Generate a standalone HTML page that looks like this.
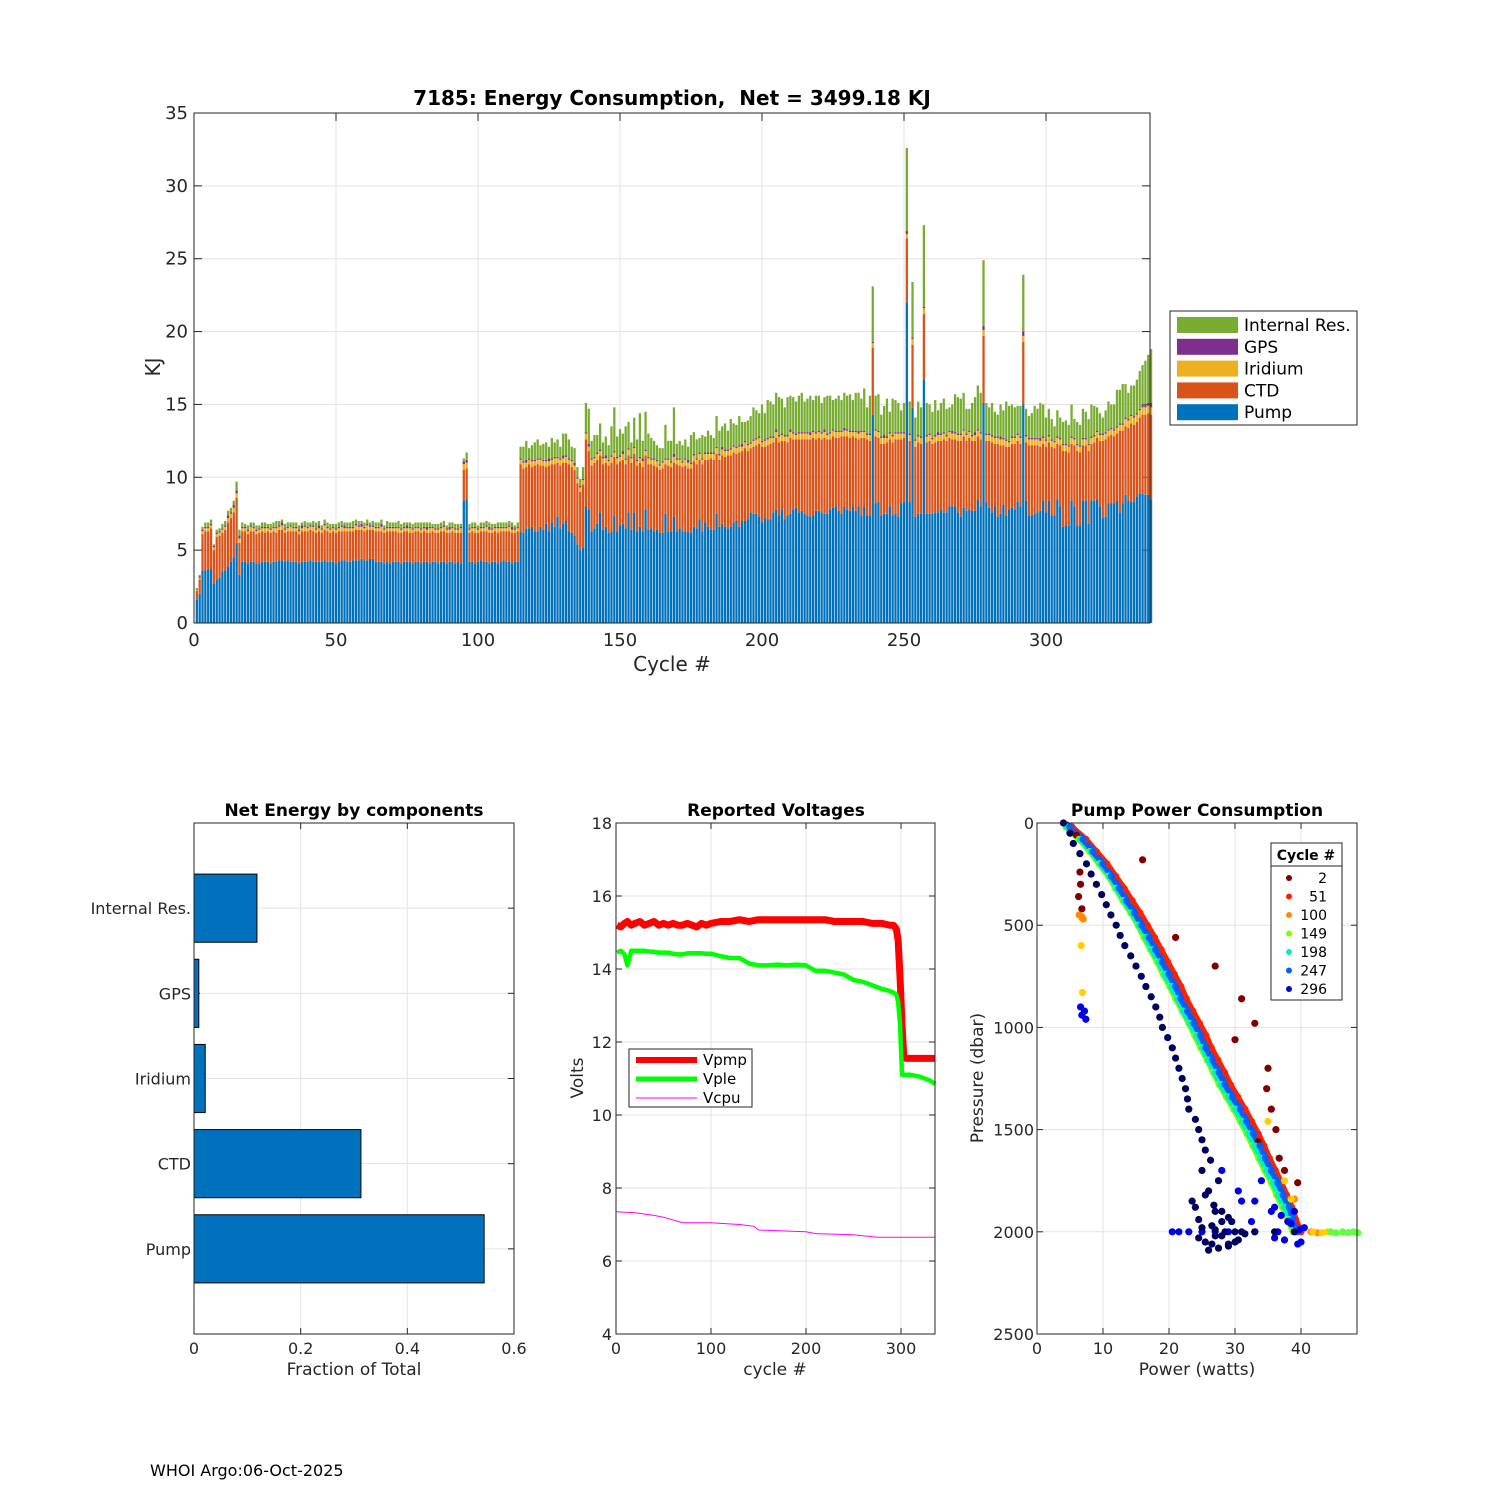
<!DOCTYPE html>
<html><head><meta charset="utf-8"><title>7185 Energy Consumption</title>
<style>
html,body{margin:0;padding:0;background:#fff;}
svg{display:block;font-family:"DejaVu Sans","Liberation Sans",sans-serif;}
</style></head>
<body>
<svg id="fig" xmlns="http://www.w3.org/2000/svg" width="1500" height="1500" viewBox="0 0 1500 1500">
<rect x="0" y="0" width="1500" height="1500" fill="#fff"/>
<g id="main"></g>
<g id="net"></g>
<g id="volt"></g>
<g id="pump"></g>
<text x="150" y="1476" font-size="16" fill="#000">WHOI Argo:06-Oct-2025</text>
</svg>
<script>
// ---------- main stacked bar data (cycles 1..337) ----------
const pumpKJ = [
1.6,2.0,3.6,3.6,3.7,3.7,2.7,3.0,3.1,3.5,
3.6,3.9,4.2,4.5,5.5,3.3,4.2,4.2,4.1,4.2,
4.2,4.1,4.1,4.2,4.2,4.2,4.1,4.2,4.2,4.3,
4.3,4.2,4.3,4.2,4.2,4.2,4.1,4.2,4.2,4.2,
4.3,4.2,4.2,4.2,4.2,4.3,4.2,4.2,4.2,4.1,
4.2,4.3,4.3,4.2,4.2,4.3,4.3,4.3,4.4,4.3,
4.3,4.4,4.4,4.2,4.2,4.2,4.1,4.2,4.1,4.2,
4.2,4.2,4.1,4.2,4.2,4.2,4.1,4.2,4.2,4.1,
4.2,4.2,4.1,4.2,4.2,4.1,4.2,4.2,4.1,4.2,
4.2,4.1,4.2,4.1,8.4,8.5,4.2,4.2,4.1,4.2,
4.3,4.2,4.2,4.1,4.2,4.2,4.1,4.2,4.3,4.2,
4.2,4.1,4.2,4.2,6.3,6.2,6.5,6.5,6.6,6.3,
6.3,6.6,6.4,6.8,6.3,6.9,6.6,7.3,6.5,6.8,
7.0,6.3,6.2,6.0,5.4,5.0,5.2,8.0,7.8,6.3,
6.5,6.8,7.6,6.4,6.6,6.2,6.3,7.4,6.3,6.7,
6.8,6.5,7.6,6.4,7.6,6.3,6.6,6.3,7.8,6.4,
6.5,6.3,6.4,6.2,6.2,7.5,6.3,6.3,7.3,6.3,
6.5,6.3,6.3,6.3,6.2,6.6,6.5,7.1,6.3,6.9,
6.6,6.4,6.4,7.5,6.6,6.8,6.6,6.5,6.6,6.9,
7.0,6.6,7.0,7.0,7.1,7.6,7.5,7.5,7.3,6.9,
7.2,7.1,7.1,7.6,7.8,7.4,7.8,7.1,7.4,7.5,
7.8,7.9,7.6,7.7,7.5,7.4,7.3,7.4,7.7,7.7,
7.6,7.5,7.5,7.8,7.9,8.0,7.7,7.5,8.0,7.8,
7.7,8.0,7.7,8.0,7.4,8.0,7.4,7.4,14.3,8.2,
8.3,7.4,7.5,7.5,8.0,7.4,7.5,7.3,8.2,8.3,
22.0,8.3,14.8,7.3,7.5,7.5,16.7,7.5,7.5,7.5,
7.6,7.6,7.8,7.6,7.6,8.0,8.0,8.0,7.6,7.3,
7.9,7.7,7.8,7.7,7.7,8.5,8.0,15.1,8.3,7.9,
7.6,8.0,7.3,7.5,8.1,7.4,7.8,7.9,7.8,8.3,
8.0,15.0,8.4,7.4,7.4,7.5,7.6,7.7,8.4,7.6,
8.4,7.4,7.4,8.5,8.0,6.6,6.7,6.7,8.4,8.0,
6.7,6.7,8.4,8.4,6.8,8.4,8.4,8.5,8.0,7.2,
7.3,8.2,8.2,8.2,8.4,7.6,8.2,8.8,8.4,8.3,
8.3,8.7,8.9,8.9,8.8,8.8,8.5];
const ctdKJ = [
0.6,1.0,2.5,2.7,2.6,2.8,2.3,2.9,2.9,2.7,
2.8,3.0,3.0,3.1,3.1,2.2,2.1,2.1,2.0,2.1,
2.1,2.0,2.1,2.1,2.0,2.1,2.1,2.1,2.0,2.1,
2.1,2.0,2.0,2.1,2.1,2.1,2.0,2.1,2.1,2.1,
2.1,2.1,2.0,2.1,2.0,2.1,2.1,2.0,2.1,2.1,
2.1,2.0,2.0,2.1,2.1,2.0,2.1,2.1,2.0,2.0,
2.1,2.0,2.0,2.1,2.1,2.1,2.1,2.1,2.2,2.1,
2.1,2.0,2.1,2.1,2.1,2.0,2.1,2.1,2.1,2.1,
2.1,2.0,2.1,2.1,2.0,2.1,2.1,2.1,2.1,2.0,
2.1,2.1,2.0,2.1,2.1,2.1,2.0,2.1,2.1,2.0,
2.0,2.1,2.1,2.1,2.0,2.1,2.1,2.1,2.0,2.1,
2.1,2.1,2.0,2.1,4.6,4.4,4.2,4.4,4.1,4.5,
4.6,4.2,4.4,3.9,4.5,4.0,4.3,3.7,4.3,4.2,
4.0,4.6,4.5,4.5,4.2,4.0,4.3,4.6,4.0,4.5,
4.5,4.4,3.9,4.5,4.4,4.6,4.7,4.0,4.6,4.4,
4.4,4.4,3.9,4.6,4.0,4.5,4.4,4.4,3.7,4.5,
4.4,4.5,4.3,4.3,4.4,3.4,4.5,4.4,3.7,4.6,
4.3,4.4,4.5,4.3,4.4,4.5,4.4,4.1,4.6,4.3,
4.6,4.9,4.8,4.1,4.6,4.7,4.8,5.0,4.9,4.8,
4.6,5.1,4.8,5.0,4.7,4.4,4.6,4.7,5.0,5.2,
4.9,5.1,5.2,4.8,4.9,5.0,4.7,5.4,5.0,5.2,
4.8,4.7,5.0,4.9,5.1,5.2,5.3,5.3,4.9,5.0,
5.0,5.2,5.1,4.8,4.9,4.7,5.0,5.3,4.8,5.0,
5.0,4.8,5.0,4.6,5.3,4.7,5.2,5.1,4.6,4.6,
4.4,4.9,4.8,4.9,4.6,5.0,5.1,5.3,4.4,4.4,
4.4,4.2,4.3,4.8,4.9,4.8,4.5,4.9,5.0,4.8,
4.8,4.9,4.7,5.0,4.9,4.7,4.6,4.6,4.9,5.2,
4.9,4.8,4.9,4.8,4.8,4.3,4.6,4.6,4.2,4.6,
4.8,4.3,5.0,4.7,4.1,4.7,4.3,4.4,4.5,4.2,
4.3,4.3,4.0,4.8,4.8,4.7,4.6,4.4,3.9,4.5,
4.0,4.7,4.6,3.8,4.2,5.2,5.1,5.0,3.9,4.2,
5.1,5.0,3.8,3.8,5.0,3.9,4.0,4.2,4.5,5.3,
5.3,4.6,4.7,4.6,4.6,5.6,5.0,4.7,5.0,5.4,
5.3,5.1,5.2,5.4,5.5,5.6,5.8];
const iridiumKJ = [
0.1,0.1,0.2,0.2,0.2,0.2,0.2,0.2,0.2,0.2,
0.2,0.3,0.3,0.3,0.3,0.3,0.2,0.2,0.2,0.3,
0.2,0.2,0.2,0.2,0.3,0.2,0.2,0.2,0.3,0.2,
0.3,0.2,0.2,0.3,0.2,0.2,0.2,0.2,0.3,0.2,
0.2,0.3,0.2,0.2,0.2,0.3,0.2,0.2,0.2,0.2,
0.2,0.3,0.2,0.2,0.2,0.2,0.3,0.2,0.2,0.2,
0.3,0.2,0.2,0.2,0.2,0.3,0.2,0.2,0.2,0.2,
0.2,0.3,0.2,0.2,0.2,0.3,0.2,0.2,0.2,0.2,
0.2,0.2,0.3,0.2,0.2,0.2,0.2,0.3,0.2,0.2,
0.2,0.2,0.2,0.3,0.4,0.4,0.2,0.2,0.3,0.2,
0.2,0.2,0.3,0.2,0.2,0.2,0.3,0.2,0.2,0.2,
0.3,0.2,0.2,0.2,0.3,0.4,0.3,0.3,0.4,0.3,
0.3,0.4,0.3,0.4,0.3,0.3,0.4,0.3,0.4,0.3,
0.4,0.3,0.4,0.3,0.3,0.3,0.3,0.4,0.3,0.4,
0.3,0.4,0.3,0.4,0.3,0.3,0.4,0.3,0.4,0.3,
0.4,0.3,0.4,0.3,0.4,0.3,0.3,0.4,0.3,0.4,
0.3,0.4,0.4,0.3,0.4,0.3,0.4,0.3,0.4,0.3,
0.4,0.3,0.4,0.4,0.3,0.4,0.3,0.4,0.3,0.4,
0.4,0.3,0.4,0.4,0.3,0.4,0.4,0.3,0.4,0.4,
0.4,0.4,0.3,0.4,0.4,0.3,0.4,0.4,0.4,0.3,
0.4,0.4,0.4,0.3,0.4,0.4,0.4,0.3,0.4,0.4,
0.4,0.3,0.4,0.4,0.4,0.4,0.3,0.4,0.4,0.4,
0.4,0.4,0.3,0.4,0.4,0.4,0.4,0.3,0.4,0.4,
0.4,0.3,0.4,0.4,0.4,0.4,0.3,0.4,0.3,0.4,
0.4,0.4,0.4,0.3,0.4,0.4,0.4,0.4,0.4,0.3,
0.3,0.4,0.4,0.4,0.4,0.4,0.4,0.4,0.4,0.3,
0.4,0.4,0.4,0.4,0.3,0.4,0.4,0.4,0.4,0.4,
0.4,0.4,0.4,0.3,0.4,0.4,0.4,0.4,0.4,0.4,
0.4,0.4,0.4,0.4,0.4,0.4,0.3,0.4,0.4,0.4,
0.4,0.4,0.4,0.4,0.4,0.4,0.4,0.4,0.4,0.4,
0.4,0.4,0.4,0.4,0.4,0.4,0.4,0.4,0.4,0.4,
0.4,0.4,0.4,0.4,0.4,0.4,0.4,0.4,0.4,0.4,
0.4,0.4,0.4,0.4,0.4,0.4,0.4,0.5,0.5,0.5,
0.5,0.5,0.5,0.5,0.5,0.5,0.5];
const gpsKJ = [
0.05,0.1,0.1,0.1,0.1,0.1,0.1,0.1,0.1,0.1,
0.1,0.2,0.1,0.2,0.2,0.2,0.1,0.1,0.1,0.1,
0.1,0.1,0.1,0.1,0.1,0.1,0.1,0.1,0.1,0.1,
0.2,0.1,0.1,0.1,0.1,0.1,0.1,0.2,0.1,0.1,
0.1,0.1,0.1,0.2,0.1,0.1,0.1,0.1,0.1,0.1,
0.1,0.1,0.2,0.1,0.1,0.1,0.1,0.1,0.2,0.1,
0.1,0.1,0.1,0.1,0.1,0.2,0.1,0.1,0.1,0.1,
0.1,0.1,0.1,0.1,0.2,0.1,0.1,0.1,0.1,0.1,
0.1,0.2,0.1,0.1,0.1,0.1,0.1,0.1,0.1,0.2,
0.1,0.1,0.1,0.1,0.2,0.2,0.1,0.1,0.1,0.1,
0.1,0.1,0.1,0.2,0.1,0.1,0.1,0.1,0.1,0.1,
0.1,0.2,0.1,0.1,0.1,0.1,0.2,0.1,0.1,0.1,
0.1,0.1,0.1,0.1,0.2,0.1,0.1,0.1,0.1,0.2,
0.1,0.1,0.1,0.2,0.1,0.1,0.1,0.1,0.2,0.1,
0.1,0.1,0.1,0.1,0.2,0.1,0.1,0.1,0.1,0.1,
0.2,0.1,0.1,0.1,0.1,0.1,0.1,0.2,0.1,0.1,
0.1,0.1,0.1,0.1,0.1,0.1,0.1,0.1,0.2,0.1,
0.1,0.1,0.1,0.2,0.1,0.1,0.1,0.1,0.1,0.1,
0.1,0.1,0.1,0.1,0.1,0.2,0.1,0.1,0.1,0.1,
0.1,0.1,0.2,0.1,0.1,0.1,0.1,0.1,0.1,0.1,
0.1,0.1,0.1,0.1,0.2,0.1,0.1,0.1,0.1,0.2,
0.1,0.1,0.1,0.1,0.1,0.1,0.2,0.1,0.1,0.1,
0.1,0.2,0.1,0.1,0.1,0.1,0.1,0.1,0.2,0.1,
0.1,0.1,0.1,0.2,0.1,0.1,0.1,0.1,0.1,0.1,
0.1,0.1,0.2,0.1,0.1,0.1,0.1,0.1,0.1,0.1,
0.2,0.1,0.1,0.1,0.1,0.1,0.1,0.1,0.1,0.1,
0.1,0.2,0.1,0.1,0.1,0.1,0.2,0.1,0.1,0.1,
0.1,0.1,0.1,0.1,0.2,0.1,0.1,0.3,0.1,0.1,
0.1,0.1,0.1,0.2,0.1,0.1,0.1,0.1,0.1,0.1,
0.1,0.3,0.1,0.1,0.1,0.1,0.1,0.2,0.1,0.1,
0.1,0.1,0.1,0.1,0.1,0.1,0.1,0.1,0.1,0.1,
0.1,0.1,0.1,0.1,0.1,0.1,0.1,0.1,0.1,0.1,
0.1,0.1,0.1,0.1,0.1,0.1,0.1,0.1,0.1,0.1,
0.1,0.1,0.1,0.2,0.2,0.2,0.3];
const internalKJ = [
0.05,0.1,0.2,0.3,0.3,0.3,0.1,0.2,0.2,0.3,
0.3,0.3,0.3,0.3,0.6,0.4,0.3,0.2,0.3,0.2,
0.3,0.3,0.2,0.3,0.3,0.2,0.3,0.3,0.4,0.3,
0.2,0.3,0.3,0.2,0.3,0.3,0.3,0.2,0.3,0.3,
0.2,0.3,0.4,0.3,0.2,0.3,0.3,0.3,0.2,0.3,
0.3,0.3,0.2,0.3,0.3,0.4,0.3,0.3,0.2,0.3,
0.3,0.2,0.3,0.3,0.3,0.3,0.2,0.4,0.3,0.3,
0.3,0.4,0.3,0.3,0.2,0.3,0.3,0.3,0.3,0.4,
0.3,0.3,0.3,0.2,0.3,0.3,0.3,0.3,0.2,0.3,
0.3,0.3,0.3,0.2,0.2,0.5,0.3,0.3,0.3,0.2,
0.3,0.3,0.3,0.3,0.3,0.2,0.3,0.3,0.3,0.3,
0.3,0.3,0.2,0.3,0.8,1.0,1.3,0.7,1.0,1.2,
1.3,0.9,1.1,1.2,0.8,1.4,1.0,1.2,0.8,1.5,
1.5,1.3,0.9,1.0,0.7,0.5,0.8,2.0,2.4,1.2,
1.5,1.2,1.8,1.0,1.3,1.0,2.0,3.0,1.4,1.8,
1.2,2.2,1.8,1.0,2.0,1.4,3.0,1.2,2.6,1.6,
1.4,1.2,1.0,1.1,0.9,2.3,1.2,1.4,3.2,1.0,
1.2,1.1,1.3,0.9,1.9,1.5,1.3,1.0,1.6,1.1,
1.5,1.2,1.0,2.1,1.6,1.4,1.8,1.3,2.0,1.5,
1.5,2.0,1.5,1.3,1.6,1.8,2.2,1.9,1.6,2.5,
1.8,2.6,2.4,2.2,2.5,2.6,2.4,1.9,2.6,2.3,
2.4,2.2,2.5,2.7,2.1,2.3,2.5,2.1,2.5,2.4,
2.0,2.2,2.6,2.5,2.0,2.2,2.4,2.1,2.4,2.3,
2.5,2.1,2.6,2.6,2.2,2.9,1.8,2.6,3.8,2.3,
2.5,1.5,2.0,2.6,1.4,2.5,2.2,2.0,1.5,2.0,
5.7,2.2,3.8,1.5,2.3,2.0,5.6,2.2,2.0,1.8,
2.4,1.5,2.1,2.3,1.8,1.6,1.8,2.6,2.5,2.4,
2.5,1.7,1.5,2.2,2.4,3.0,2.7,4.5,2.1,1.8,
2.2,1.7,1.5,2.2,1.9,2.6,2.4,2.2,2.0,1.9,
2.1,3.9,1.8,1.5,1.7,2.2,2.0,2.4,2.2,1.5,
1.8,1.4,1.0,1.8,1.4,1.5,1.6,1.4,2.2,1.3,
1.5,1.4,2.0,1.8,1.7,2.2,2.0,1.6,1.4,1.1,
1.5,1.9,1.6,1.7,2.5,2.3,2.7,2.3,1.8,2.0,
2.1,2.3,2.6,2.7,3.0,3.3,3.7];
const mainYTicks = [0,5,10,15,20,25,30,35];
const mainXTicks = [0,50,100,150,200,250,300];
const componentNames = ["Pump","CTD","Iridium","GPS","Internal Res."];
const componentColors = ["#0072BD","#D95319","#EDB120","#7E2F8E","#77AC30"];

// ---------- net energy fractions ----------
const netCategories = ["Pump","CTD","Iridium","GPS","Internal Res."];
const netFractions = [0.544,0.313,0.021,0.009,0.118];
const netXTicks = [0,0.2,0.4,0.6];

// ---------- voltages ----------
const voltCycles = [1,5,9,12,16,20,25,30,35,40,45,50,55,60,65,70,75,80,85,90,95,100,110,120,130,140,150,160,170,180,190,200,210,220,230,240,250,260,270,280,288,292,295,297,299,301,303,305,310,320,330,336];
const vpmp = [15.2,15.15,15.25,15.3,15.2,15.25,15.3,15.2,15.25,15.3,15.2,15.25,15.2,15.25,15.2,15.2,15.25,15.2,15.15,15.25,15.2,15.25,15.3,15.3,15.35,15.3,15.35,15.35,15.35,15.35,15.35,15.35,15.35,15.35,15.3,15.3,15.3,15.3,15.25,15.25,15.2,15.2,15.1,14.8,13.8,12.5,11.6,11.55,11.55,11.55,11.55,11.55];
const vple = [14.45,14.5,14.4,14.1,14.5,14.5,14.5,14.5,14.48,14.47,14.45,14.45,14.45,14.42,14.4,14.4,14.43,14.43,14.43,14.43,14.42,14.42,14.35,14.3,14.3,14.15,14.1,14.1,14.12,14.1,14.12,14.1,13.95,13.95,13.9,13.85,13.7,13.65,13.55,13.45,13.4,13.35,13.3,13.1,12.5,11.1,11.1,11.1,11.1,11.05,10.95,10.85];
const cpuCycles = [0,20,40,50,70,100,130,145,150,200,210,250,265,275,280,336];
const vcpu = [7.35,7.32,7.25,7.2,7.05,7.05,7.0,6.95,6.85,6.8,6.75,6.72,6.68,6.65,6.65,6.65];
const voltYTicks = [4,6,8,10,12,14,16,18];
const voltXTicks = [0,100,200,300];

// ---------- pump power scatter ----------
const linePres = [20,80,140,200,260,320,380,440,500,560,620,680,740,800,860,920,980,1040,1100,1160,1220,1280,1340,1400,1460,1520,1580,1640,1700,1760,1820,1880,1940,2000];
const pow247 = [5.0,7.0,8.5,10.0,11.3,12.5,13.6,14.8,15.9,17.0,18.0,19.0,20.0,21.0,21.8,22.8,23.8,24.8,25.6,26.6,27.6,28.5,29.6,30.8,31.8,32.8,33.8,34.6,35.5,36.5,37.3,38.2,38.8,39.5];
const pow198 = [4.6,6.6,8.2,9.6,11.0,12.1,13.2,14.4,15.5,16.5,17.4,18.5,19.4,20.4,21.3,22.2,23.2,24.2,25.1,26.0,27.0,27.9,29.0,30.1,31.1,32.1,33.0,33.9,34.8,35.8,36.6,37.5,38.3,39.0];
const pow149 = [4.4,6.4,8.0,9.4,10.8,11.9,13.0,14.2,15.3,16.2,17.2,18.2,19.1,20.1,21.0,22.0,23.0,23.9,24.8,25.8,26.7,27.6,28.7,29.8,30.8,31.8,32.7,33.6,34.5,35.5,36.3,37.2,38.0,38.8];
const pow51 = [5.3,7.4,9.0,10.6,11.9,13.2,14.4,15.6,16.7,17.8,18.8,19.8,20.8,21.8,22.6,23.6,24.6,25.6,26.4,27.4,28.4,29.3,30.4,31.5,32.5,33.5,34.4,35.2,36.1,37.0,37.8,38.6,39.2,40.0];
const pres2 = [10,60,180,240,300,360,420,460,560,700,860,980,1060,1200,1300,1400,1500,1560,1640,1700,1760];
const pow2 = [4.5,6.0,16.0,6.5,6.6,6.3,6.8,6.8,21.0,27.0,31.0,33.0,30.0,35.0,34.8,35.5,36.2,33.5,36.7,37.5,39.5];
const pres100 = [450,460,470,1840,2000,2005];
const pow100 = [6.4,6.8,7.0,39.0,41.5,42.5];
const presYellow = [600,830,1460,1750,1840,2000,2005,2000];
const powYellow = [6.7,6.9,35.0,37.5,38.5,41.8,43.2,44.0];
const presLime = [2000,2005,2000,2003,2000,2005];
const powLime = [44.5,45.3,46.3,47.2,48.0,48.6];
const pres296 = [900,920,940,960,1800,1850,1900,1950,2000,2000,2000,2000,2000,2040,2060,1980,1900,1850,1950,2030,1700,1750,2000,2000,2000,1920,1960,2050,1880,1990];
const pow296 = [6.6,7.2,6.8,7.4,30.5,33.0,35.5,38.0,20.5,21.5,23.0,25.0,27.0,37.5,39.5,40.5,39.0,31.0,32.5,36.0,28.0,34.0,29.0,33.0,36.5,37.0,38.5,40.0,36.0,39.8];
const presNavy = [0,50,100,150,200,300,400,500,600,700,800,900,1000,1100,1200,1300,1400,1500,1600,1700,1800,1850,1900,1950,2000,2000,2030,2050,2060,2080,2090,2070,2040,2010,1950,1900,1880,1990,2000,2000,2000,250,350,450,550,650,750,850,950,1050,1150,1250,1350,1450,1550,1650,1750,1820,1870,1930,1970,2020,2060,1980,1940,2020,2050,2000];
const powNavy = [4.0,5.0,5.5,6.5,7.5,9.0,10.5,12.0,13.3,15.0,16.5,18.0,19.0,20.5,21.5,22.5,23.0,24.5,25.5,25.0,26.0,23.5,27.0,28.0,28.5,30.0,24.5,25.5,26.5,27.5,26.0,29.0,30.5,31.5,29.5,28.0,24.0,27.0,33.0,36.0,39.0,8.2,9.8,11.2,12.6,14.2,15.8,17.3,18.6,19.8,21.0,22.0,22.8,24.0,25.0,26.3,27.5,25.5,26.8,29.0,26.5,28.0,29.0,25.0,24.5,27.0,30.0,31.0];
const scatterColors = ["#800000","#ff2000","#ff8a00","#80ff00","#00f0c0","#0060ff","#0000e6"];
const scatterLabels = ["2","51","100","149","198","247","296"];
const pumpYTicks = [0,500,1000,1500,2000,2500];
const pumpXTicks = [0,10,20,30,40];

// ---------- helpers ----------
const NS = "http://www.w3.org/2000/svg";
function mk(parent, tag, attrs, txt){
  const e = document.createElementNS(NS, tag);
  for (const k in attrs) e.setAttribute(k, attrs[k]);
  if (txt !== undefined) e.textContent = txt;
  parent.appendChild(e);
  return e;
}
const GRID = "#e3e3e3";
const AX = "#262626";

// ---------- main chart ----------
(function(){
  const g = document.getElementById("main");
  const L=194, R=1150, T=113, B=623;
  const mx = c => L + c*(1046-194)/300;
  const my = v => B - v*(B-T)/35;
  mainYTicks.forEach(v=>{
    const gl = mk(g,"line",{x1:L,x2:R,y1:my(v),y2:my(v),stroke:GRID,"stroke-width":1});
    
    
    const t = mk(g,"text",{x:L-6,y:my(v)+6,"text-anchor":"end","font-size":18,fill:AX},String(v));
    
    
    mk(g,"line",{x1:L,x2:L+8,y1:my(v),y2:my(v),stroke:AX});
    mk(g,"line",{x1:R,x2:R-8,y1:my(v),y2:my(v),stroke:AX});
  });
  mainXTicks.forEach(v=>{
    const gl = mk(g,"line",{x1:mx(v),x2:mx(v),y1:T,y2:B,stroke:GRID,"stroke-width":1});
    
    
    const t = mk(g,"text",{x:mx(v),y:B+23,"text-anchor":"middle","font-size":18,fill:AX},String(v));
    
    
    mk(g,"line",{x1:mx(v),x2:mx(v),y1:B,y2:B-8,stroke:AX});
    mk(g,"line",{x1:mx(v),x2:mx(v),y1:T,y2:T+8,stroke:AX});
  });
  const series = [pumpKJ, ctdKJ, iridiumKJ, gpsKJ, internalKJ];
  const n = Math.min(...series.map(s=>s.length));
  const bw = 0.8*(1046-194)/300;
  for (let i=0;i<n;i++){
    let base = 0;
    const cx = mx(i+1);
    for (let s=0;s<5;s++){
      const v = series[s][i];
      const r = mk(g,"rect",{x:cx-bw/2,y:my(base+v),width:bw,height:Math.max(0,my(base)-my(base+v)),fill:componentColors[s]});
      
      
      base += v;
    }
  }
  const box = mk(g,"rect",{x:L,y:T,width:R-L,height:B-T,fill:"none",stroke:AX,"stroke-width":1});
  
  
  const title = mk(g,"text",{x:672,y:105,"text-anchor":"middle","font-size":20,"font-weight":"bold",fill:"#000"},"7185: Energy Consumption,\u00a0 Net = 3499.18 KJ");
  
  
  const xl = mk(g,"text",{x:672,y:671,"text-anchor":"middle","font-size":20,fill:AX},"Cycle #");
  
  
  const yl = mk(g,"text",{x:0,y:0,transform:"translate(160,367) rotate(-90)","text-anchor":"middle","font-size":20,fill:AX},"KJ");
  
  
  const lg = mk(g,"rect",{x:1170,y:311,width:187,height:114,fill:"#fff",stroke:AX});
  
  
  const order = [4,3,2,1,0];
  order.forEach((s,k)=>{
    const yy = 325 + k*21.8;
    const sw = mk(g,"rect",{x:1177,y:yy-8,width:61,height:16,fill:componentColors[s]});
    
    
    const lt = mk(g,"text",{x:1244,y:yy+6,"font-size":17,fill:"#000"},componentNames[s]);
    
    
  });
})();

// ---------- net energy ----------
(function(){
  const g = document.getElementById("net");
  const L=194,R=514,T=823,B=1334;
  const nx = f => L + f*(R-L)/0.6;
  const ny = k => B - k*(B-T)/6;
  netXTicks.forEach(v=>{
    mk(g,"line",{x1:nx(v),x2:nx(v),y1:T,y2:B,stroke:GRID});
    mk(g,"line",{x1:nx(v),x2:nx(v),y1:B,y2:B-6,stroke:AX});
    mk(g,"line",{x1:nx(v),x2:nx(v),y1:T,y2:T+6,stroke:AX});
    const t = mk(g,"text",{x:nx(v),y:B+20,"text-anchor":"middle","font-size":16,fill:AX},String(v));
    
    
  });
  netCategories.forEach((c,i)=>{
    const k=i+1;
    mk(g,"line",{x1:L,x2:R,y1:ny(k),y2:ny(k),stroke:GRID});
    mk(g,"line",{x1:L,x2:L+6,y1:ny(k),y2:ny(k),stroke:AX});
    mk(g,"line",{x1:R,x2:R-6,y1:ny(k),y2:ny(k),stroke:AX});
    const t = mk(g,"text",{x:L-3,y:ny(k)+6,"text-anchor":"end","font-size":16,fill:AX},c);
    
    
  });
  netFractions.forEach((f,i)=>{
    const k=i+1;
    const r = mk(g,"rect",{x:nx(0),y:ny(k+0.4),width:nx(f)-nx(0),height:ny(k-0.4)-ny(k+0.4),fill:"#0072BD",stroke:"#000","stroke-width":1});
    
    
  });
  mk(g,"rect",{x:L,y:T,width:R-L,height:B-T,fill:"none",stroke:AX});
  const ti = mk(g,"text",{x:354,y:816,"text-anchor":"middle","font-size":17,"font-weight":"bold",fill:"#000"},"Net Energy by components");
  
  
  const xl = mk(g,"text",{x:354,y:1375,"text-anchor":"middle","font-size":17,fill:AX},"Fraction of Total");
  
  
})();

// ---------- voltages ----------
(function(){
  const g = document.getElementById("volt");
  const L=616,R=935,T=823,B=1334;
  const vx = c => L + c*0.95;
  const vy = v => B - (v-4)*(B-T)/14;
  voltYTicks.forEach(v=>{
    mk(g,"line",{x1:L,x2:R,y1:vy(v),y2:vy(v),stroke:GRID});
    mk(g,"line",{x1:L,x2:L+6,y1:vy(v),y2:vy(v),stroke:AX});
    mk(g,"line",{x1:R,x2:R-6,y1:vy(v),y2:vy(v),stroke:AX});
    const t = mk(g,"text",{x:L-4,y:vy(v)+6,"text-anchor":"end","font-size":16,fill:AX},String(v));
    
    
  });
  voltXTicks.forEach(v=>{
    mk(g,"line",{x1:vx(v),x2:vx(v),y1:T,y2:B,stroke:GRID});
    mk(g,"line",{x1:vx(v),x2:vx(v),y1:B,y2:B-6,stroke:AX});
    mk(g,"line",{x1:vx(v),x2:vx(v),y1:T,y2:T+6,stroke:AX});
    const t = mk(g,"text",{x:vx(v),y:B+20,"text-anchor":"middle","font-size":16,fill:AX},String(v));
    
    
  });
  const pts = (xs,ys)=>xs.map((c,i)=>vx(c).toFixed(1)+","+vy(ys[i]).toFixed(1)).join(" ");
  const l1 = mk(g,"polyline",{points:pts(voltCycles,vpmp),fill:"none",stroke:"#ff0000","stroke-width":7,"stroke-linejoin":"round"});
  
  
  const l2 = mk(g,"polyline",{points:pts(voltCycles,vple),fill:"none",stroke:"#00ff00","stroke-width":4.5,"stroke-linejoin":"round"});
  
  
  const l3 = mk(g,"polyline",{points:pts(cpuCycles,vcpu),fill:"none",stroke:"#ff00ff","stroke-width":1});
  
  
  mk(g,"rect",{x:L,y:T,width:R-L,height:B-T,fill:"none",stroke:AX});
  const lb = mk(g,"rect",{x:629,y:1049,width:123,height:58,fill:"#fff",stroke:AX});
  
  
  const ent = [["Vpmp","#ff0000",6],["Vple","#00ff00",5],["Vcpu","#ff00ff",1]];
  ent.forEach((e,k)=>{
    const yy = 1060 + k*19;
    mk(g,"line",{x1:636,x2:697,y1:yy,y2:yy,stroke:e[1],"stroke-width":e[2]});
    const t = mk(g,"text",{x:703,y:yy+5,"font-size":15,fill:"#000"},e[0]);
    
    
  });
  const ti = mk(g,"text",{x:776,y:816,"text-anchor":"middle","font-size":17,"font-weight":"bold",fill:"#000"},"Reported Voltages");
  
  
  const xl = mk(g,"text",{x:775,y:1375,"text-anchor":"middle","font-size":17,fill:AX},"cycle #");
  
  
  const yl = mk(g,"text",{x:0,y:0,transform:"translate(583,1078) rotate(-90)","text-anchor":"middle","font-size":17,fill:AX},"Volts");
  
  
})();

// ---------- pump power ----------
(function(){
  const g = document.getElementById("pump");
  const L=1037,R=1357,T=823,B=1334;
  const px = w => L + w*6.6;
  const py = p => T + p*(B-T)/2500;
  pumpYTicks.forEach(v=>{
    mk(g,"line",{x1:L,x2:R,y1:py(v),y2:py(v),stroke:GRID});
    mk(g,"line",{x1:L,x2:L+6,y1:py(v),y2:py(v),stroke:AX});
    mk(g,"line",{x1:R,x2:R-6,y1:py(v),y2:py(v),stroke:AX});
    const t = mk(g,"text",{x:L-3,y:py(v)+6,"text-anchor":"end","font-size":16,fill:AX},String(v));
    
    
  });
  pumpXTicks.forEach(v=>{
    mk(g,"line",{x1:px(v),x2:px(v),y1:T,y2:B,stroke:GRID});
    mk(g,"line",{x1:px(v),x2:px(v),y1:B,y2:B-6,stroke:AX});
    mk(g,"line",{x1:px(v),x2:px(v),y1:T,y2:T+6,stroke:AX});
    const t = mk(g,"text",{x:px(v),y:B+20,"text-anchor":"middle","font-size":16,fill:AX},String(v));
    
    
  });
  // dense profile bands (profiles sampled continuously)
  const bands = [[linePres,pow51,"#ff2000"],[linePres,pow149,"#80ff00"],[linePres,pow198,"#00f0c0"],[linePres,pow247,"#0060ff"]];
  bands.forEach(b=>{
    const [pr,pw,col] = b;
    const pl = mk(g,"polyline",{points:pr.map((p,i)=>px(pw[i]).toFixed(1)+","+py(p).toFixed(1)).join(" "),fill:"none",stroke:col,"stroke-width":6,"stroke-linecap":"round","stroke-linejoin":"round"});
    
    
  });
  const groups = [
    [pres2,pow2,"#800000","cycle-2"],
    [linePres,pow51,"#ff2000","cycle-51"],
    [pres100,pow100,"#ff8a00","cycle-100"],
    [presYellow,powYellow,"#ffd000","cycle-yellow"],
    [linePres,pow149,"#80ff00","cycle-149"],
    [presLime,powLime,"#60ff40","cycle-lime"],
    [linePres,pow198,"#00f0c0","cycle-198"],
    [linePres,pow247,"#0060ff","cycle-247"],
    [pres296,pow296,"#0000e6","cycle-296"],
    [presNavy,powNavy,"#000060","cycle-navy"]
  ];
  groups.forEach(gr=>{
    const [pr,pw,col,nm] = gr;
    const n = Math.min(pr.length,pw.length);
    for(let i=0;i<n;i++){
      const c = mk(g,"circle",{cx:px(pw[i]),cy:py(pr[i]),r:3.6,fill:col});
      
      
    }
  });
  mk(g,"rect",{x:L,y:T,width:R-L,height:B-T,fill:"none",stroke:AX});
  const lb = mk(g,"rect",{x:1271,y:843,width:71,height:157,fill:"#fff",stroke:AX});
  
  
  mk(g,"line",{x1:1271,x2:1342,y1:866,y2:866,stroke:AX});
  const h = mk(g,"text",{x:1306,y:860,"text-anchor":"middle","font-size":14,"font-weight":"bold",fill:"#000"},"Cycle #");
  
  
  scatterLabels.forEach((lab,k)=>{
    const yy = 878 + k*18.5;
    mk(g,"circle",{cx:1289,cy:yy,r:3,fill:scatterColors[k]});
    const t = mk(g,"text",{x:1327,y:yy+5,"text-anchor":"end","font-size":14,fill:"#000"},lab);
    
    
  });
  const ti = mk(g,"text",{x:1197,y:816,"text-anchor":"middle","font-size":17,"font-weight":"bold",fill:"#000"},"Pump Power Consumption");
  
  
  const xl = mk(g,"text",{x:1197,y:1375,"text-anchor":"middle","font-size":17,fill:AX},"Power (watts)");
  
  
  const yl = mk(g,"text",{x:0,y:0,transform:"translate(983,1078) rotate(-90)","text-anchor":"middle","font-size":17,fill:AX},"Pressure (dbar)");
  
  
})();
</script>
</body></html>
